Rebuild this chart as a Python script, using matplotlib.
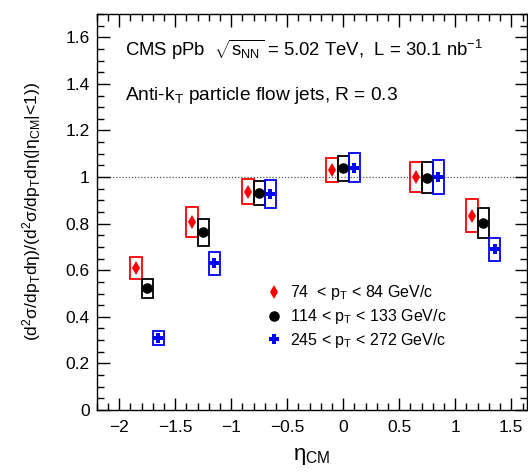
import matplotlib
matplotlib.use("Agg")
import matplotlib.pyplot as plt
from matplotlib.ticker import MultipleLocator
import numpy as np

plt.rcParams['font.family'] = ['Liberation Sans', 'DejaVu Sans']
plt.rcParams['mathtext.fontset'] = 'custom'
plt.rcParams['mathtext.rm'] = 'Liberation Sans'
plt.rcParams['mathtext.it'] = 'Liberation Sans:italic'
plt.rcParams['mathtext.bf'] = 'Liberation Sans:bold'

# ---- data ----
eta_centers = [-1.75, -1.25, -0.75, 0.0, 0.75, 1.25]
labels = ["74  < p$_{\\rm T}$ < 84 GeV/c",
          "114 < p$_{\\rm T}$ < 133 GeV/c",
          "245 < p$_{\\rm T}$ < 272 GeV/c"]
ratio_low = [0.610, 0.808, 0.938, 1.030, 1.000, 0.834]
ratio_mid = [0.522, 0.762, 0.931, 1.037, 0.998, 0.804]
ratio_high = [0.308, 0.630, 0.929, 1.041, 1.001, 0.690]
sys_low = [0.048, 0.065, 0.052, 0.052, 0.065, 0.070]
sys_mid = [0.041, 0.059, 0.052, 0.053, 0.065, 0.065]
sys_high = [0.030, 0.050, 0.060, 0.061, 0.072, 0.050]

series = [
    (ratio_low, sys_low, -0.1, 'red', 'd', 7.5),
    (ratio_mid, sys_mid, 0.0, 'black', 'o', 7.6),
    (ratio_high, sys_high, 0.1, 'blue', 'P', 7.6),
]

fig = plt.figure(figsize=(5.28, 4.72), dpi=100)
ax = fig.add_axes([96.7/528, 1-410/472, (527-96.7)/528, (410-14)/472])

ax.axhline(1.0, color='#555555', lw=0.9, ls=(0, (1, 1.5)), zorder=1)

handles = []
for (vals, sys, off, col, mk, ms), lab in zip(series, labels):
    x = np.array(eta_centers) + off
    v = np.array(vals)
    s = np.array(sys)
    ax.bar(x, 2*s, bottom=v - s, width=0.1, fill=False, edgecolor=col,
           linewidth=1.3, zorder=2)
    h, = ax.plot(x, v, ls='none', marker=mk, color=col, ms=ms,
                 markeredgewidth=0, zorder=3, label=lab)
    handles.append(h)

ax.set_xlim(-2.2, 1.64)
ax.set_ylim(0, 1.7)
ax.xaxis.set_minor_locator(MultipleLocator(0.1))
ax.yaxis.set_minor_locator(MultipleLocator(0.05))
ax.set_xticks([-2, -1.5, -1, -0.5, 0, 0.5, 1, 1.5])
ax.set_xticklabels(['\u22122', '\u22121.5', '\u22121', '\u22120.5', '0', '0.5', '1', '1.5'])
ax.set_yticks([0, 0.2, 0.4, 0.6, 0.8, 1.0, 1.2, 1.4, 1.6])
ax.set_yticklabels(['0', '0.2', '0.4', '0.6', '0.8', '1', '1.2', '1.4', '1.6'])
ax.tick_params(which='both', direction='in', top=True, right=True, labelsize=12.5,
               width=1.0)
ax.tick_params(which='major', length=9)
ax.tick_params(which='minor', length=4.7)
ax.tick_params(axis='x', pad=7)
ax.tick_params(axis='y', pad=5)
for sp in ax.spines.values():
    sp.set_linewidth(1.0)

ax.set_xlabel('η$_{\\rm CM}$', fontsize=16, labelpad=8)
ax.set_ylabel('(d$^{2}$σ/dp$_{\\rm T}$dη)/(d$^{2}$σ/dp$_{\\rm T}$dη(|η$_{\\rm CM}$|<1))',
              fontsize=12.6, labelpad=16)

fig.text(125/528, 1 - 50/472,
         'CMS pPb  $\\sqrt{\\mathrm{s_{NN}}}$ = 5.02 TeV,  L = 30.1 nb$^{-1}$',
         fontsize=13.3, va='center', ha='left')
fig.text(125/528, 1 - 96/472, 'Anti-k$_{\\rm T}$ particle flow jets, R = 0.3',
         fontsize=13.8, va='center', ha='left')

leg = ax.legend(handles=handles, loc='upper left', bbox_to_anchor=(0.375, 0.34),
                frameon=False, fontsize=11.5, handlelength=1.0, handletextpad=0.5,
                labelspacing=0.3, borderpad=0, numpoints=1)

fig.savefig('out.png', dpi=100)
